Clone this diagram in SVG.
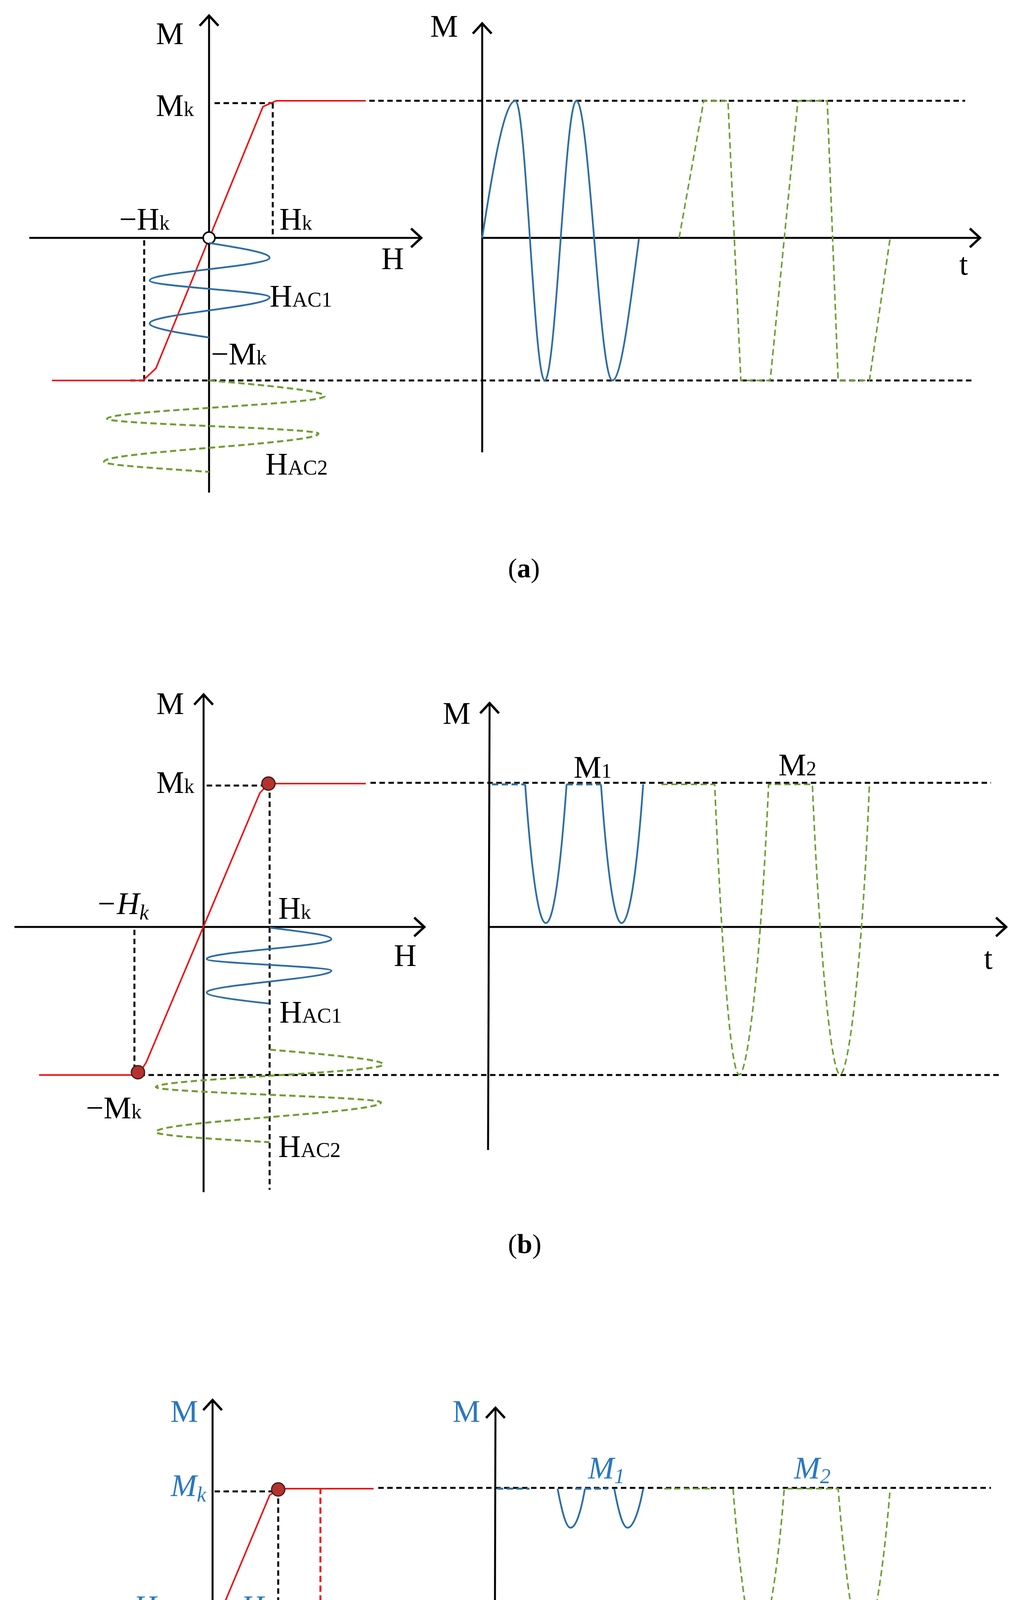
<svg xmlns="http://www.w3.org/2000/svg" width="2595" height="5184" viewBox="0 0 2595 5184">
<style>
.ax{stroke:#000;stroke-width:5;fill:none}
.dk{stroke:#000;stroke-width:5;fill:none;stroke-dasharray:14 9}
.rd{stroke:#f01010;stroke-width:4;fill:none}
.rdd{stroke:#f01010;stroke-width:5;fill:none;stroke-dasharray:16 9}
.bl{stroke:#2f6ea5;stroke-width:4.5;fill:none}
.bld{stroke:#2f6ea5;stroke-width:5;fill:none;stroke-dasharray:16 9}
.gr{stroke:#6e9e32;stroke-width:5;fill:none;stroke-dasharray:16 9}
.gt{stroke:#6e9e32;stroke-width:4;fill:none;stroke-dasharray:16 9}
text{font-family:"Liberation Serif",serif;font-size:80px;fill:#000}
.b{fill:#2b78c2}
.i{font-style:italic}
.cap{font-size:70px}
.dot{fill:#b5322f;stroke:#3a1a1a;stroke-width:3}
</style>
<defs>
<marker id="ar" markerUnits="userSpaceOnUse" markerWidth="60" markerHeight="60" refX="0" refY="0" viewBox="-40 -30 50 60" orient="auto" overflow="visible">
<path d="M-26,-24 L0,0 L-26,24" fill="none" stroke="#000" stroke-width="6"/>
</marker>
</defs>
<rect width="2595" height="5184" fill="#fff"/>

<g id="connectors">
<g id="a-axes">
<line class="ax" x1="535" y1="1261" x2="535" y2="40" marker-end="url(#ar)"/>
<line class="ax" x1="75" y1="609" x2="1078" y2="609" marker-end="url(#ar)"/>
<line class="ax" x1="1234" y1="1158" x2="1234" y2="60" marker-end="url(#ar)"/>
<line class="ax" x1="1234" y1="609" x2="2508" y2="609" marker-end="url(#ar)"/>
</g>
<g id="a-guides">
<path class="dk" d="M549,264 H700 M698,264 V600 M369,615 V974 M945,258 H2470 M333,974 H2486"/>
</g>
<g id="b-axes">
<line class="ax" x1="521" y1="3052" x2="521" y2="1778" marker-end="url(#ar)"/>
<line class="ax" x1="37" y1="2373" x2="1086" y2="2373" marker-end="url(#ar)"/>
<line class="ax" x1="1249" y1="2944" x2="1253" y2="1800" marker-end="url(#ar)"/>
<line class="ax" x1="1251" y1="2373" x2="2575" y2="2373" marker-end="url(#ar)"/>
</g>
<g id="b-guides">
<path class="dk" d="M529,2011 H687 M690,2006 V3046 M344,2380 V2751 M948,2004 H2536 M357,2752 H2561"/>
</g>
<g id="c-axes">
<line class="ax" x1="544" y1="4843" x2="544" y2="3584" marker-end="url(#ar)"/>
<line class="ax" x1="67" y1="4173" x2="1103" y2="4173" marker-end="url(#ar)"/>
<line class="ax" x1="1265" y1="4735" x2="1268" y2="3604" marker-end="url(#ar)"/>
<line class="ax" x1="1267" y1="4173" x2="2575" y2="4173" marker-end="url(#ar)"/>
</g>
<g id="c-guides">
<path class="dk" d="M549,3818 H712 M712,3813 V4821 M373,4180 V4547 M968,3809 H2536 M382,4548 H2553"/>
<path class="rdd" d="M820,3809 V4819"/>
</g>
</g>

<g id="a-curves">
<path class="rd" d="M133,974 H366 L399,943 L673,273 L707,258 H936"/>
<circle cx="535" cy="609" r="15" fill="#fff" stroke="#000" stroke-width="4"/>
<path class="bl" d="M535,622 C616,635 690,647 690,660 C690,681 383,697 383,718 C383,734 690,745 690,761 C690,785 383,804 383,828 C383,840 455,852 535,864"/>
<path class="gr" d="M535,974 C689,987 831,1001 831,1014 C831,1035 274,1051 274,1072 C274,1086 815,1096 815,1110 C815,1136 266,1156 266,1182 C266,1191 406,1199 535,1208"/>
<path class="bl" d="M1234,609 C1262,426 1291,258 1319,258 C1346,258 1367,974 1394,974 C1423,974 1446,258 1475,258 C1508,258 1534,974 1567,974 C1590,974 1612,786 1635,612"/>
<path class="gt" d="M1738,609 L1801,258 H1863 L1896,974 H1971 L2042,258 H2117 L2145,974 H2225 L2278,609"/>
</g>
<g id="a-labels">
<text x="399" y="113">M</text>
<text x="399" y="297">M<tspan font-size="52">k</tspan></text>
<text x="305" y="588">−H<tspan font-size="52">k</tspan></text>
<text x="715" y="588">H<tspan font-size="52">k</tspan></text>
<text x="976" y="689">H</text>
<text x="690" y="785">H<tspan font-size="54">AC1</tspan></text>
<text x="540" y="933">−M<tspan font-size="52">k</tspan></text>
<text x="679" y="1215">H<tspan font-size="54">AC2</tspan></text>
<text x="1101" y="94">M</text>
<text x="2455" y="703">t</text>
<text class="cap" x="1300" y="1478">(<tspan font-weight="bold">a</tspan>)</text>
</g>

<g id="b-curves">
<path class="rd" d="M100,2752 H353 L374,2720 L665,2030 L687,2006 H936"/>
<circle class="dot" cx="687" cy="2006" r="17"/>
<circle class="dot" cx="353" cy="2745" r="17"/>
<path class="bl" d="M690,2375 C773,2385 848,2394 848,2404 C848,2423 529,2436 529,2455 C529,2466 848,2474 848,2485 C848,2505 529,2521 529,2541 C529,2550 605,2560 688,2569"/>
<path class="gr" d="M690,2687 C841,2700 981,2712 981,2725 C981,2746 399,2762 399,2783 C399,2797 975,2808 975,2822 C975,2850 399,2870 399,2898 C399,2907 545,2916 690,2924"/>
<path class="bld" d="M1259,2008 H1344 M1450,2008 H1538"/>
<path class="bl" d="M1344,2008 C1362,2260 1380,2363 1397,2363 C1414,2363 1432,2260 1450,2008 M1538,2008 C1556,2260 1574,2363 1591,2363 C1608,2363 1628,2260 1646,2008"/>
<path class="gt" d="M1693,2008 H1829 C1850,2500 1872,2751 1892,2751 C1912,2751 1945,2500 1967,2008 H2079 C2100,2500 2130,2751 2150,2751 C2170,2751 2205,2500 2225,2008"/>
</g>
<g id="b-labels">
<text x="400" y="1828">M</text>
<text x="400" y="2030">M<tspan font-size="52">k</tspan></text>
<text x="245" y="2340" class="i">−H<tspan font-size="54" dy="14">k</tspan></text>
<text x="712" y="2352">H<tspan font-size="52">k</tspan></text>
<text x="1008" y="2473">H</text>
<text x="715" y="2618">H<tspan font-size="54">AC1</tspan></text>
<text x="220" y="2863">−M<tspan font-size="52">k</tspan></text>
<text x="712" y="2962">H<tspan font-size="54">AC2</tspan></text>
<text x="1133" y="1853">M</text>
<text x="2518" y="2480">t</text>
<text x="1468" y="1991">M<tspan font-size="52">1</tspan></text>
<text x="1992" y="1985">M<tspan font-size="52">2</tspan></text>
<text class="cap" x="1300" y="3208">(<tspan font-weight="bold">b</tspan>)</text>
</g>

<g id="c-curves">
<path class="rd" d="M130,4547 H379 L404,4510 L690,3828 L712,3811 H956"/>
<circle class="dot" cx="712" cy="3813" r="17"/>
<circle class="dot" cx="379" cy="4542" r="17"/>
<path class="bl" d="M823,4173 C905,4183 981,4193 981,4203 C981,4220 665,4232 665,4249 C665,4264 975,4274 975,4289 C975,4308 665,4321 665,4340 C665,4347 740,4355 815,4362"/>
<path class="gr" d="M825,4486 C975,4499 1117,4512 1117,4526 C1117,4547 543,4562 543,4583 C543,4597 1103,4608 1103,4622 C1103,4647 540,4667 540,4692 C540,4703 680,4713 815,4724"/>
<path class="bld" d="M1272,3811 H1355 M1472,3811 H1555"/>
<path class="bl" d="M1427,3811 C1440,3880 1450,3911 1460,3911 C1472,3911 1485,3880 1497,3811 M1572,3811 C1585,3880 1595,3911 1606,3911 C1618,3911 1633,3880 1646,3811"/>
<path class="gt" d="M1700,3811 H1829 M1876,3811 C1898,4100 1925,4225 1937,4225 C1950,4225 1985,4100 2007,3811 H2145 C2168,4100 2195,4225 2208,4225 C2221,4225 2255,4100 2278,3811"/>
</g>
<g id="c-labels">
<text class="b" x="436" y="3640">M</text>
<text class="b i" x="437" y="3830">M<tspan font-size="54" dy="14">k</tspan></text>
<text class="b i" x="288" y="4140">−H<tspan font-size="54" dy="14">k</tspan></text>
<text class="b i" x="617" y="4140">H<tspan font-size="54" dy="14">k</tspan></text>
<text class="b" x="836" y="4155">H<tspan font-size="54">DC</tspan></text>
<text class="b" x="1062" y="4240">H</text>
<text class="b" x="840" y="4456">H<tspan font-size="54">AC1</tspan></text>
<text class="b i" x="290" y="4637">−M<tspan font-size="54" dy="14">k</tspan></text>
<text class="b" x="845" y="4750">H<tspan font-size="54">AC2</tspan></text>
<text class="b" x="1158" y="3640">M</text>
<text class="b" x="2540" y="4245">t</text>
<text class="b i" x="1505" y="3785">M<tspan font-size="54" dy="12">1</tspan></text>
<text class="b i" x="2032" y="3785">M<tspan font-size="54" dy="12">2</tspan></text>
<text class="cap" x="1300" y="5162">(<tspan font-weight="bold">c</tspan>)</text>
</g>
</svg>
